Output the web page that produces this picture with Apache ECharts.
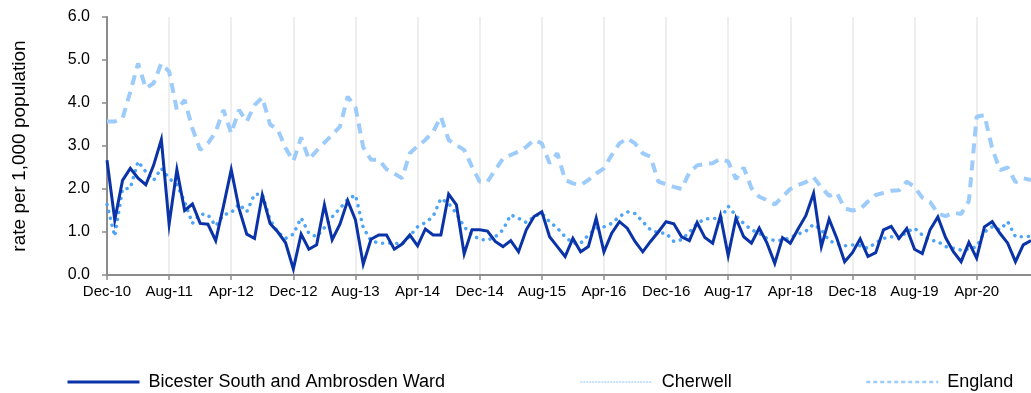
<!DOCTYPE html>
<html>
<head>
<meta charset="utf-8">
<script src="https://cdn.jsdelivr.net/npm/echarts@6/dist/echarts.min.js"></script>
<style>
  html, body { margin: 0; padding: 0; background: #ffffff; }
  #chart { width: 1031px; height: 393px; }
</style>
</head>
<body>
<div id="chart"></div>
<script>
// Monthly periods, Dec-10 to Nov-20
const monthNames = ['Jan','Feb','Mar','Apr','May','Jun','Jul','Aug','Sep','Oct','Nov','Dec'];
const startYear = 2010, startMonth = 11, monthCount = 120;
const categories = [];
for (let k = 0; k < monthCount; k++) {
  const m = (startMonth + k) % 12;
  const y = startYear + Math.floor((startMonth + k) / 12);
  categories.push(monthNames[m] + '-' + String(y % 100).padStart(2, '0'));
}

const yTicks = [0, 1, 2, 3, 4, 5, 6];

const seriesNames = ['Bicester South and Ambrosden Ward', 'Cherwell', 'England'];

// rate per 1,000 population
const ward = [
  2.67, 1.28, 2.2, 2.48, 2.25, 2.1, 2.55, 3.15, 1.18, 2.45,
  1.5, 1.65, 1.2, 1.18, 0.8, 1.6, 2.45, 1.55, 0.95, 0.85,
  1.86, 1.2, 1.0, 0.75, 0.14, 0.95, 0.6, 0.7, 1.63, 0.82,
  1.18, 1.73, 1.28, 0.25, 0.83, 0.93, 0.93, 0.6, 0.72, 0.93,
  0.68, 1.07, 0.93, 0.93, 1.88, 1.63, 0.49, 1.05, 1.05, 1.02,
  0.78, 0.66, 0.8, 0.54, 1.05, 1.36, 1.47, 0.89, 0.66, 0.43,
  0.85, 0.54, 0.66, 1.32, 0.54, 0.97, 1.24, 1.09, 0.78, 0.54,
  0.78, 1.0, 1.24, 1.19, 0.89, 0.8, 1.22, 0.87, 0.74, 1.38,
  0.45, 1.32, 0.89, 0.74, 1.09, 0.74, 0.27, 0.87, 0.74, 1.07,
  1.38, 1.9, 0.66, 1.3, 0.85, 0.31, 0.52, 0.84, 0.43, 0.52,
  1.05, 1.13, 0.85, 1.08, 0.6, 0.5, 1.05, 1.35, 0.87, 0.54,
  0.31, 0.76, 0.39, 1.12, 1.24, 0.97, 0.74, 0.31, 0.7, 0.8
];

const cherwell = [
  1.64, 0.9, 2.0, 2.02, 2.64, 2.4, 2.2, 2.48, 2.25, 2.1,
  1.7, 1.2, 1.42, 1.4, 1.14, 1.4, 1.45, 1.65, 1.47, 1.88,
  1.88, 1.28, 1.0, 0.85, 0.95, 1.33, 0.97, 0.89, 1.1, 1.35,
  1.55, 1.76, 1.86, 1.1, 0.8, 0.74, 0.74, 0.74, 0.72, 0.91,
  1.12, 1.22, 1.36, 1.78, 1.66, 1.43, 1.12, 0.93, 0.83, 0.81,
  0.89, 1.05, 1.4, 1.32, 1.22, 1.36, 1.43, 1.24, 1.09, 0.89,
  0.74, 0.74, 0.93, 1.09, 1.12, 1.2, 1.36, 1.47, 1.43, 1.24,
  1.05, 0.98, 0.97, 0.78, 0.82, 1.0, 1.2, 1.3, 1.32, 1.3,
  1.6, 1.38, 1.2, 1.05, 0.97, 0.85, 0.8, 0.81, 0.87, 0.95,
  1.02, 1.18, 1.05, 0.8, 0.72, 0.68, 0.7, 0.68, 0.62, 0.75,
  0.85, 0.89, 0.85, 1.0, 1.09, 0.93, 0.81, 0.78, 0.66, 0.62,
  0.58, 0.6, 0.66, 1.0, 1.12, 1.05, 1.24, 0.89, 0.89, 0.9
];

const england = [
  3.57, 3.57, 3.64, 4.26, 4.92, 4.34, 4.46, 4.92, 4.73, 3.84,
  4.07, 3.41, 2.91, 3.06, 3.33, 3.84, 3.29, 3.84, 3.57, 3.95,
  4.13, 3.5, 3.38, 2.95, 2.65, 3.2, 2.69, 2.89, 3.08, 3.26,
  3.45, 4.15, 3.9, 2.97, 2.68, 2.68, 2.46, 2.36, 2.25, 2.83,
  3.0, 3.14, 3.33, 3.68, 3.14, 3.02, 2.91, 2.52, 2.17, 2.17,
  2.44, 2.71, 2.79, 2.87, 2.98, 3.14, 3.06, 2.6, 2.83, 2.21,
  2.13, 2.09, 2.21, 2.36, 2.48, 2.79, 3.06, 3.18, 3.06, 2.83,
  2.75, 2.17, 2.11, 2.05, 2.0, 2.38, 2.55, 2.58, 2.6, 2.7,
  2.64, 2.23, 2.5, 2.02, 1.82, 1.74, 1.64, 1.82, 2.0, 2.09,
  2.16, 2.27, 2.04, 1.84, 1.91, 1.55, 1.5, 1.53, 1.71, 1.86,
  1.91, 1.96, 1.97, 2.17, 2.05, 1.8, 1.7, 1.43, 1.37, 1.45,
  1.42, 1.72, 3.68, 3.72, 2.95, 2.44, 2.5, 2.16, 2.25, 2.21
];

const font = '"Liberation Sans", Arial, sans-serif';
const axisGrey = '#8c8c8c';
const wardColor = '#0a33a8';
const cherwellColor = '#4ea4f6';
const englandColor = '#9dcbfa';

const chart = echarts.init(document.getElementById('chart'), null, { renderer: 'canvas' });

// one legend block per series so each key sits at its own column
function legendAt(left, name, lineStyle) {
  return {
    left: left,
    top: 373,
    padding: 0,
    itemWidth: 72,
    itemHeight: 14,
    itemGap: 0,
    itemStyle: { opacity: 0 },
    lineStyle: lineStyle,
    textStyle: { fontFamily: font, fontSize: 18, color: '#000000', padding: [0, 0, 0, 4] },
    data: [name]
  };
}

chart.setOption({
  animation: false,
  backgroundColor: '#ffffff',
  grid: { left: 107, right: 0, top: 17, bottom: 118, containLabel: false, outerBoundsMode: 'none' },
  legend: [
    legendAt(66, seriesNames[0], { width: 3, color: wardColor }),
    legendAt(580, seriesNames[1], { width: 1.5, color: '#b4d8fb', type: [1, 2] }),
    legendAt(865, seriesNames[2], { width: 2.5, color: englandColor, type: [4, 3] })
  ],
  xAxis: {
    type: 'category',
    data: categories,
    boundaryGap: false,
    axisLine: { lineStyle: { color: axisGrey, width: 2 } },
    axisTick: { show: true, interval: 7, length: 5, lineStyle: { color: axisGrey, width: 1.5 } },
    axisLabel: { interval: 7, margin: 9, fontFamily: font, fontSize: 15, color: '#000000' },
    splitLine: { show: true, interval: 7, lineStyle: { color: '#e9e9e9', width: 1.5 } }
  },
  yAxis: {
    type: 'value',
    min: yTicks[0],
    max: yTicks[yTicks.length - 1],
    interval: 1,
    name: 'rate per 1,000 population',
    nameLocation: 'middle',
    nameRotate: 90,
    nameGap: 78,
    nameTextStyle: { fontFamily: font, fontSize: 19, color: '#000000' },
    axisLine: { show: true, lineStyle: { color: axisGrey, width: 2 } },
    axisTick: { show: true, length: 5, lineStyle: { color: axisGrey, width: 1.5 } },
    axisLabel: {
      margin: 17,
      fontFamily: font,
      fontSize: 16,
      color: '#000000',
      formatter: v => v.toFixed(1)
    },
    splitLine: { show: false }
  },
  series: [
    {
      name: seriesNames[0],
      type: 'line',
      data: ward,
      symbol: 'none',
      z: 5,
      color: wardColor,
      lineStyle: { color: wardColor, width: 3, join: 'miter' }
    },
    {
      name: seriesNames[1],
      type: 'line',
      data: cherwell,
      symbol: 'none',
      z: 4,
      color: cherwellColor,
      lineStyle: { color: cherwellColor, width: 3.5, type: [0.1, 7], cap: 'round' }
    },
    {
      name: seriesNames[2],
      type: 'line',
      data: england,
      symbol: 'none',
      z: 3,
      color: englandColor,
      lineStyle: { color: englandColor, width: 4, type: [10, 7] }
    }
  ]
});
</script>
</body>
</html>
